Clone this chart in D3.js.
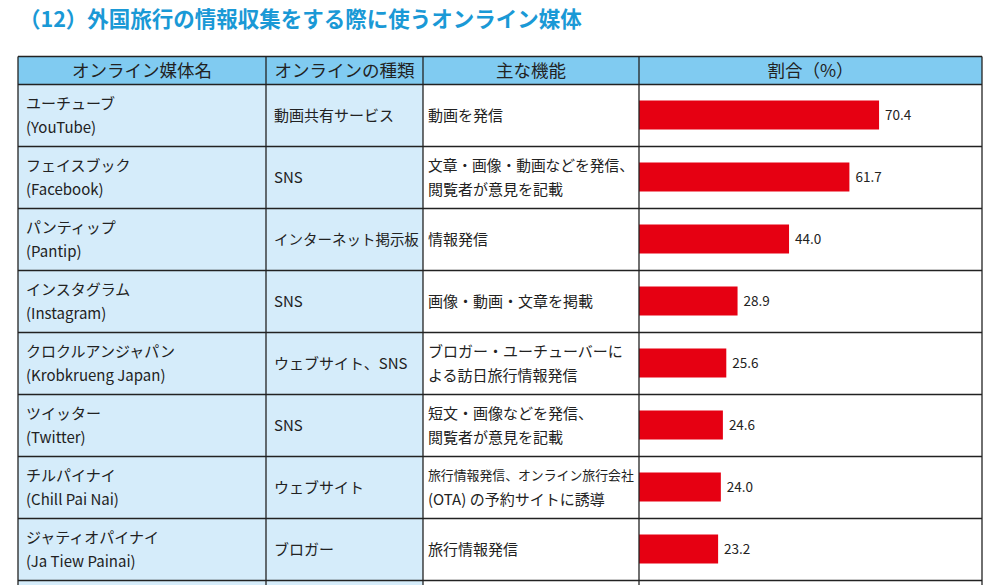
<!DOCTYPE html>
<html><head><meta charset="utf-8">
<script src="https://cdn.jsdelivr.net/npm/d3@7"></script>
<style>
html,body{margin:0;padding:0;background:#fff;}
svg{display:block;font-family:"Noto Sans CJK JP","Noto Sans",sans-serif;}
</style></head>
<body>
<script>
const title = "（12）外国旅行の情報収集をする際に使うオンライン媒体";
const headers = ["オンライン媒体名", "オンラインの種類", "主な機能", "割合（%）"];
const namesJa = ["ユーチューブ","フェイスブック","パンティップ","インスタグラム","クロクルアンジャパン","ツイッター","チルパイナイ","ジャティオパイナイ"];
const namesEn = ["(YouTube)","(Facebook)","(Pantip)","(Instagram)","(Krobkrueng Japan)","(Twitter)","(Chill Pai Nai)","(Ja Tiew Painai)"];
const types = ["動画共有サービス","SNS","インターネット掲示板","SNS","ウェブサイト、SNS","SNS","ウェブサイト","ブロガー"];
const functions = [
  ["動画を発信"],
  ["文章・画像・動画などを発信、","閲覧者が意見を記載"],
  ["情報発信"],
  ["画像・動画・文章を掲載"],
  ["ブロガー・ユーチューバーに","よる訪日旅行情報発信"],
  ["短文・画像などを発信、","閲覧者が意見を記載"],
  ["旅行情報発信、オンライン旅行会社","(OTA) の予約サイトに誘導"],
  ["旅行情報発信"]
];
const shares = [70.4, 61.7, 44.0, 28.9, 25.6, 24.6, 24.0, 23.2];

const W = 993, H = 585;
const svg = d3.select("body").append("svg").attr("width", W).attr("height", H);

svg.append("text").attr("x", 19).attr("y", 27)
  .attr("fill", "#1a99d6").attr("font-size", 21.5).attr("font-weight", "bold")
  .text(title);

const colX = [18, 266, 423, 639, 982];
const headTop = 56.5, headBot = 84.5, rowH = 62;
const rows = d3.range(namesJa.length);
const y = d3.scaleBand().domain(rows).range([headBot, headBot + rowH * rows.length]).paddingInner(0).paddingOuter(0);
const x = d3.scaleLinear().domain([0, 100]).range([colX[3], colX[3] + 341]);

svg.append("rect").attr("x", colX[0]).attr("y", headTop).attr("width", colX[4]-colX[0]).attr("height", headBot-headTop).attr("fill", "#80cbf1");
svg.append("rect").attr("x", colX[0]).attr("y", headBot).attr("width", colX[2]-colX[0]).attr("height", H-headBot).attr("fill", "#d5ecfa");

svg.selectAll("text.hd").data(headers).join("text").attr("class","hd")
  .attr("x", (d,i) => (colX[i]+colX[i+1])/2).attr("y", (headTop+headBot)/2)
  .attr("dy", "0.36em").attr("text-anchor", "middle").attr("font-size", 17.5).attr("fill", "#222")
  .text(d => d);

svg.selectAll("rect.bar").data(shares).join("rect").attr("class","bar")
  .attr("x", x(0)).attr("y", (d,i) => y(i) + rowH/2 - 15).attr("height", 29)
  .attr("width", d => x(d) - x(0)).attr("fill", "#e60012");
svg.selectAll("text.val").data(shares).join("text").attr("class","val")
  .attr("x", d => x(d) + 6).attr("y", (d,i) => y(i) + rowH/2).attr("dy","0.36em")
  .attr("font-size", 13.5).attr("fill", "#222").text(d => d.toFixed(1));

const fs = 15;
function cellText(tx, ty, t, maxW) {
  const el = svg.append("text").attr("x", tx).attr("y", ty).attr("dy","0.36em").attr("font-size", fs).attr("fill","#222").text(t);
  const w = el.node().getComputedTextLength();
  if (w > maxW) el.attr("font-size", fs * maxW / w);
  return el;
}
rows.forEach(i => {
  const cy = y(i) + rowH/2;
  cellText(26, cy - 12, namesJa[i], colX[1] - 30);
  cellText(26, cy + 12, namesEn[i], colX[1] - 30);
  cellText(274, cy, types[i], colX[2] - colX[1] - 12);
  const lines = functions[i];
  lines.forEach((t, k) => {
    const ty = lines.length === 1 ? cy : cy + (k === 0 ? -12 : 12);
    cellText(428, ty, t, colX[3] - colX[2] - 10);
  });
});

const line = (x1,y1,x2,y2) => svg.append("line").attr("x1",x1).attr("y1",y1).attr("x2",x2).attr("y2",y2).attr("stroke","#222").attr("stroke-width",1.3);
const hy = [headTop, headBot].concat(rows.map(i => y(i) + rowH));
hy.forEach(v => line(colX[0], v, colX[4], v));
colX.forEach(v => line(v, headTop, v, H + 5));
</script>
</body></html>
